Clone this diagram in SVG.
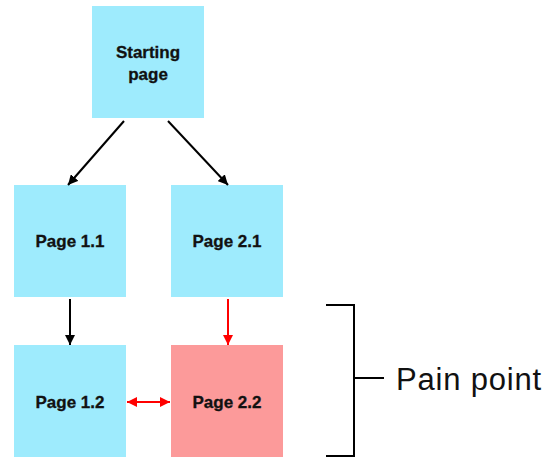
<svg xmlns="http://www.w3.org/2000/svg" width="542" height="458" viewBox="0 0 542 458">
  <style>
    .page { fill: #9eebfd; }
    .pain { fill: #fc9a9a; }
    .label { font-family: "Liberation Sans", Arial, sans-serif; font-weight: bold; font-size: 17px; fill: #111; text-anchor: middle; stroke: #111; stroke-width: 0.3; }
    .link { stroke: #000; stroke-width: 2; fill: none; }
    .link-red { stroke: #ff0000; stroke-width: 2; fill: none; }
    .bracket { stroke: #000; stroke-width: 2; fill: none; }
    .note { font-family: "Liberation Sans", Arial, sans-serif; font-size: 31px; letter-spacing: 0.8px; fill: #111; }
  </style>
  <defs>
    <marker id="arrow-black" viewBox="0 0 10 10" refX="10" refY="5" markerWidth="5" markerHeight="5" orient="auto-start-reverse" markerUnits="strokeWidth">
      <path d="M0,0 L10,5 L0,10 Z" fill="#000"/>
    </marker>
    <marker id="arrow-red" viewBox="0 0 10 10" refX="10" refY="5" markerWidth="5" markerHeight="5" orient="auto-start-reverse" markerUnits="strokeWidth">
      <path d="M0,0 L10,5 L0,10 Z" fill="#ff0000"/>
    </marker>
  </defs>

  <g id="start-page">
    <rect class="page" x="92" y="6" width="112" height="112"/>
    <text class="label" x="148" y="58">Starting</text>
    <text class="label" x="148" y="80">page</text>
  </g>
  <g id="page-1-1">
    <rect class="page" x="14" y="185" width="112" height="112"/>
    <text class="label" x="70" y="247">Page 1.1</text>
  </g>
  <g id="page-2-1">
    <rect class="page" x="171" y="185" width="112" height="112"/>
    <text class="label" x="227" y="247">Page 2.1</text>
  </g>
  <g id="page-1-2">
    <rect class="page" x="14" y="345" width="112" height="112"/>
    <text class="label" x="70" y="408">Page 1.2</text>
  </g>
  <g id="page-2-2">
    <rect class="pain" x="171" y="345" width="112" height="112"/>
    <text class="label" x="227" y="408">Page 2.2</text>
  </g>

  <g id="connectors">
    <line class="link" x1="124" y1="121" x2="68" y2="185" marker-end="url(#arrow-black)"/>
    <line class="link" x1="168" y1="121" x2="228" y2="185" marker-end="url(#arrow-black)"/>
    <line class="link" x1="70" y1="299" x2="70" y2="345" marker-end="url(#arrow-black)"/>
    <line class="link-red" x1="228" y1="299" x2="228" y2="345" marker-end="url(#arrow-red)"/>
    <line class="link-red" x1="127" y1="402" x2="170" y2="402" marker-start="url(#arrow-red)" marker-end="url(#arrow-red)"/>
  </g>

  <g id="pain-point">
    <path class="bracket" d="M326,305 H354 V456 H326 M354,378 H384"/>
    <text class="note" x="396" y="390">Pain point</text>
  </g>
</svg>
